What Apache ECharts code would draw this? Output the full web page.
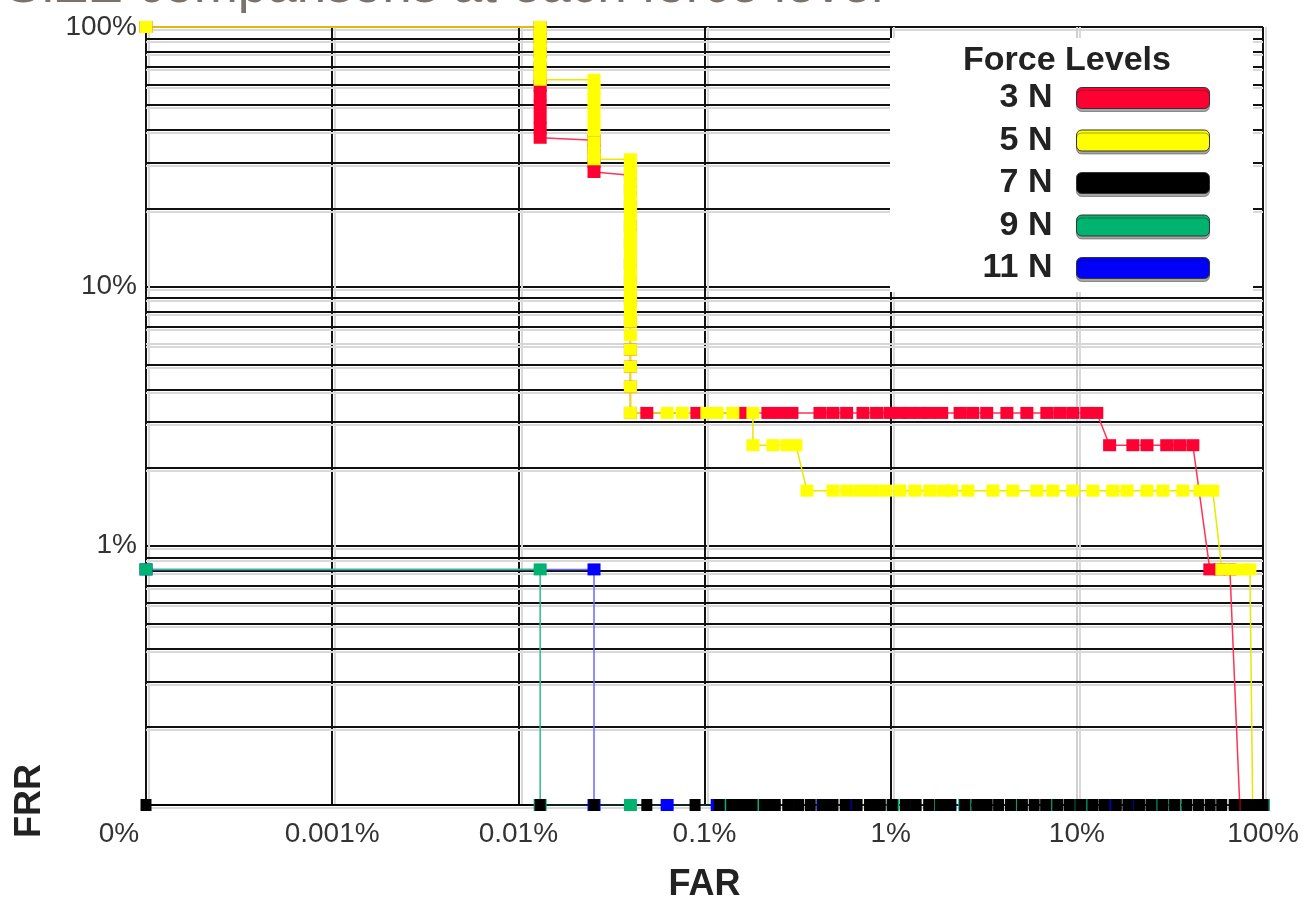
<!DOCTYPE html>
<html>
<head>
<meta charset="utf-8">
<script src="https://cdn.jsdelivr.net/npm/echarts@6/dist/echarts.min.js"></script>
<style>
html,body{margin:0;padding:0;background:#fff;}
#chart{width:1303px;height:899px;}
</style>
</head>
<body>
<div id="chart"></div>
<script>
// ---------------- data (percent units; 0 means "zero", drawn at the axis floor) ----------------
const FORCE_LEVELS = ['3 N', '5 N', '7 N', '9 N', '11 N'];
const X_TICK_LABELS = ['0%', '0.001%', '0.01%', '0.1%', '1%', '10%', '100%'];
const Y_TICK_LABELS = ['', '1%', '10%', '100%'];
const Y_MINOR_GRID = [0.2, 0.3, 0.4, 0.5, 0.6, 0.7, 0.8, 0.9, 2, 3, 4, 5, 6, 7, 8, 9, 20, 30, 40, 50, 60, 70, 80, 90];

// [FAR %, FRR %]
const N3 = [
  [0, 100], [0.0131, 100], [0.0131, 90], [0.0131, 80], [0.0131, 70], [0.0131, 62.6], [0.0131, 59.3],
  [0.0131, 54.5], [0.0131, 49.6], [0.0131, 44.7], [0.0131, 40.7], [0.0131, 37.4],
  [0.0255, 36.6], [0.0255, 33.3], [0.0255, 30.1], [0.0255, 27.6],
  [0.040, 26.8], [0.040, 23.6], [0.040, 20.3], [0.040, 17.1], [0.040, 14.6], [0.040, 12.2], [0.040, 10.6],
  [0.040, 8.9], [0.040, 7.3], [0.040, 5.7], [0.040, 4.9], [0.040, 4.1], [0.040, 3.25],
  [0.049, 3.25], [0.091, 3.25], [0.161, 3.25], [0.219, 3.25], [0.254, 3.25], [0.295, 3.25], [0.417, 3.25],
  [0.49, 3.25], [0.58, 3.25], [0.71, 3.25], [0.84, 3.25], [0.99, 3.25], [1.12, 3.25], [1.26, 3.25],
  [1.44, 3.25], [1.62, 3.25], [1.88, 3.25], [2.36, 3.25], [2.76, 3.25], [3.28, 3.25], [4.21, 3.25],
  [5.39, 3.25], [6.9, 3.25], [8.1, 3.25], [9.5, 3.25], [11.3, 3.25], [12.8, 3.25],
  [15.0, 2.44], [20.0, 2.44], [23.8, 2.44], [30.4, 2.44], [35.7, 2.44], [42.0, 2.44],
  [51.8, 0.81], [58.6, 0.81], [66.4, 0.81],
  [75, 0], [100, 0]
];
const N5 = [
  [0, 100], [0.0131, 100], [0.0131, 94], [0.0131, 88], [0.0131, 82], [0.0131, 76], [0.0131, 70], [0.0131, 66], [0.0131, 62.6],
  [0.0255, 62.6], [0.0255, 57.7], [0.0255, 52.8], [0.0255, 47.9], [0.0255, 43.9], [0.0255, 39.8], [0.0255, 35.8],
  [0.0255, 32.5], [0.0255, 30.9],
  [0.040, 30.9], [0.040, 29.3], [0.040, 27.6], [0.040, 26.0], [0.040, 24.4], [0.040, 22.8], [0.040, 21.1],
  [0.040, 19.5], [0.040, 17.9], [0.040, 16.3], [0.040, 15.4], [0.040, 14.6], [0.040, 13.8], [0.040, 13.0],
  [0.040, 12.2], [0.040, 11.4], [0.040, 10.6], [0.040, 9.8], [0.040, 8.9], [0.040, 8.1],
  [0.040, 7.3], [0.040, 6.5], [0.040, 5.7], [0.040, 4.9], [0.040, 4.1], [0.040, 3.25],
  [0.063, 3.25], [0.076, 3.25], [0.103, 3.25], [0.117, 3.25], [0.142, 3.25], [0.182, 3.25],
  [0.182, 2.44], [0.233, 2.44], [0.277, 2.44], [0.31, 2.44],
  [0.355, 1.63], [0.49, 1.63], [0.582, 1.63], [0.684, 1.63], [0.80, 1.63], [0.94, 1.63], [1.12, 1.63],
  [1.35, 1.63], [1.62, 1.63], [1.91, 1.63], [2.13, 1.63], [2.6, 1.63], [3.54, 1.63], [4.53, 1.63],
  [6.1, 1.63], [7.43, 1.63], [9.51, 1.63], [12.2, 1.63], [15.6, 1.63], [18.6, 1.63], [23.8, 1.63],
  [29.0, 1.63], [37.1, 1.63], [45.8, 1.63], [53.7, 1.63],
  [60.1, 0.81], [67.9, 0.81], [77.9, 0.81], [85.1, 0.81],
  [88, 0], [100, 0]
];
const N7 = [
  [0, 0], [0.0131, 0], [0.0255, 0], [0.049, 0], [0.089, 0], [0.12, 0], [0.14, 0], [0.16, 0], [0.18, 0],
  [0.21, 0], [0.24, 0], [0.28, 0], [0.32, 0], [0.37, 0], [0.43, 0], [0.49, 0], [0.57, 0], [0.66, 0],
  [0.77, 0], [0.88, 0], [1.02, 0], [1.2, 0], [1.37, 0], [1.6, 0], [1.85, 0], [2.1, 0], [2.5, 0], [2.9, 0],
  [3.3, 0], [3.8, 0], [4.4, 0], [5.1, 0], [5.9, 0], [6.8, 0], [7.9, 0], [9.1, 0], [10.5, 0], [12.2, 0],
  [14, 0], [16.3, 0], [18.8, 0], [21.7, 0], [25, 0], [29, 0], [33.5, 0], [39, 0], [45, 0], [52, 0],
  [60, 0], [70, 0], [81, 0], [92, 0], [100, 0]
];
const N9 = [
  [0, 0.81], [0.0131, 0.81], [0.0131, 0], [0.040, 0], [0.126, 0], [0.182, 0], [0.206, 0], [0.288, 0],
  [1.03, 0], [1.32, 0], [1.67, 0], [2.5, 0], [3.13, 0], [4.76, 0], [7.34, 0], [9.4, 0], [11.75, 0],
  [25.6, 0], [33.6, 0], [100, 0]
];
const N11 = [
  [0, 0.81], [0.0255, 0.81], [0.0255, 0], [0.063, 0], [0.117, 0], [0.432, 0], [0.582, 0], [2.08, 0],
  [15.4, 0], [19.7, 0], [100, 0]
];

// ---------------- chart ----------------
const X_MIN = 0.0001, X_MAX = 100, Y_MIN = 0.1, Y_MAX = 100;
const FONT = '"Liberation Sans", Arial, sans-serif';
const toPlot = p => [p[0] === 0 ? X_MIN : p[0], p[1] === 0 ? Y_MIN : p[1]];
const decade = v => Math.round(Math.log10(v));

function mk(name, data, color, lineColor, size) {
  return {
    name: name, type: 'line', data: data.map(toPlot),
    symbol: 'rect', symbolSize: size || [13, 12], showSymbol: true, clip: false,
    lineStyle: { color: lineColor, width: 1.5 },
    itemStyle: { color: color },
    emphasis: { disabled: true }, z: 2
  };
}

const chart = echarts.init(document.getElementById('chart'), null, { renderer: 'canvas' });
const black = mk('7 N', N7, '#000000', '#000000', [11, 12]);
black.markLine = {
  silent: true, z: 1, symbol: ['none', 'none'], label: { show: false }, animation: false,
  data: Y_MINOR_GRID.map(v => ({
    yAxis: v,
    lineStyle: { color: v === 6 ? '#d6d6d6' : '#111', width: 2, type: 'solid',
                 shadowColor: '#d9d9d9', shadowOffsetY: 3, shadowBlur: 0 }
  }))
};

chart.setOption({
  animation: false,
  backgroundColor: '#ffffff',
  grid: { left: 146, right: 40, top: 27, bottom: 94, containLabel: false, outerBoundsMode: 'none' },
  xAxis: {
    type: 'log', logBase: 10, min: X_MIN, max: X_MAX, splitNumber: 6,
    axisLine: { show: true, onZero: false, lineStyle: { color: '#111', width: 2 } },
    axisTick: { show: false },
    axisLabel: {
      margin: 15, fontSize: 28, color: '#333', fontFamily: FONT, showMinLabel: true, showMaxLabel: true,
      formatter: v => { const i = decade(v) + 4; return i === 0 ? '{z|' + X_TICK_LABELS[0] + '}' : X_TICK_LABELS[i]; },
      rich: { z: { padding: [0, 54, 0, 0], fontSize: 28, color: '#333', fontFamily: FONT } }
    },
    splitLine: { show: true, lineStyle: { color: ['#111', '#111', '#111', '#111', '#111', '#d0d0d0', '#111'], width: 2,
                 shadowColor: '#d9d9d9', shadowOffsetX: 3, shadowBlur: 0 } },
    name: 'FAR', nameLocation: 'middle', nameGap: 62,
    nameTextStyle: { fontSize: 36, fontWeight: 'bold', color: '#222', fontFamily: FONT }
  },
  yAxis: {
    type: 'log', logBase: 10, min: Y_MIN, max: Y_MAX, splitNumber: 3,
    axisLine: { show: true, lineStyle: { color: '#111', width: 2 } },
    axisTick: { show: false },
    axisLabel: {
      margin: 9, fontSize: 28, color: '#333', fontFamily: FONT, showMinLabel: true, showMaxLabel: true,
      formatter: v => Y_TICK_LABELS[decade(v) + 1]
    },
    splitLine: { show: true, lineStyle: { color: '#111', width: 2, shadowColor: '#d9d9d9', shadowOffsetY: 3, shadowBlur: 0 } }
  },
  legend: {
    data: FORCE_LEVELS, orient: 'vertical', align: 'right', right: 93, top: 81, padding: 0,
    itemWidth: 133, itemHeight: 21, itemGap: 8.5, icon: 'roundRect', selectedMode: false, z: 20,
    formatter: n => '{a|' + n + '}',
    textStyle: { rich: { a: { width: 62, align: 'right', fontSize: 34, fontWeight: 'bold', color: '#222',
                              fontFamily: FONT, lineHeight: 21, padding: [0, 19, 0, 0] } } },
    itemStyle: { borderColor: '#333', borderWidth: 1, shadowColor: 'rgba(0,0,0,0.35)', shadowOffsetY: 3, shadowBlur: 0 }
  },
  graphic: [
    { type: 'rect', z: 10, shape: { x: 890, y: 38, width: 363, height: 254 }, style: { fill: '#ffffff' } },
    { type: 'text', z: 11, x: 1067, y: 61,
      style: { text: 'Force Levels', font: 'bold 34px ' + FONT, fill: '#222', textAlign: 'center', textVerticalAlign: 'middle' } },
    { type: 'text', z: 11, x: 883, y: 14,
      style: { text: 'SIZE comparisons at each force level', font: '53px ' + FONT, fill: '#7a726b', textAlign: 'right', textVerticalAlign: 'bottom' } },
    { type: 'text', z: 11, x: 30, y: 801, rotation: Math.PI / 2,
      style: { text: 'FRR', font: 'bold 36px ' + FONT, fill: '#222', textAlign: 'center', textVerticalAlign: 'middle' } }
  ],
  series: [
    mk('3 N', N3, '#ff0033', '#ff3355'),
    mk('5 N', N5, '#ffff00', '#e8e800'),
    mk('11 N', N11, '#0000ff', '#6a6aff'),
    mk('9 N', N9, '#00b371', '#33bb88'),
    black
  ]
});
</script>
</body>
</html>
